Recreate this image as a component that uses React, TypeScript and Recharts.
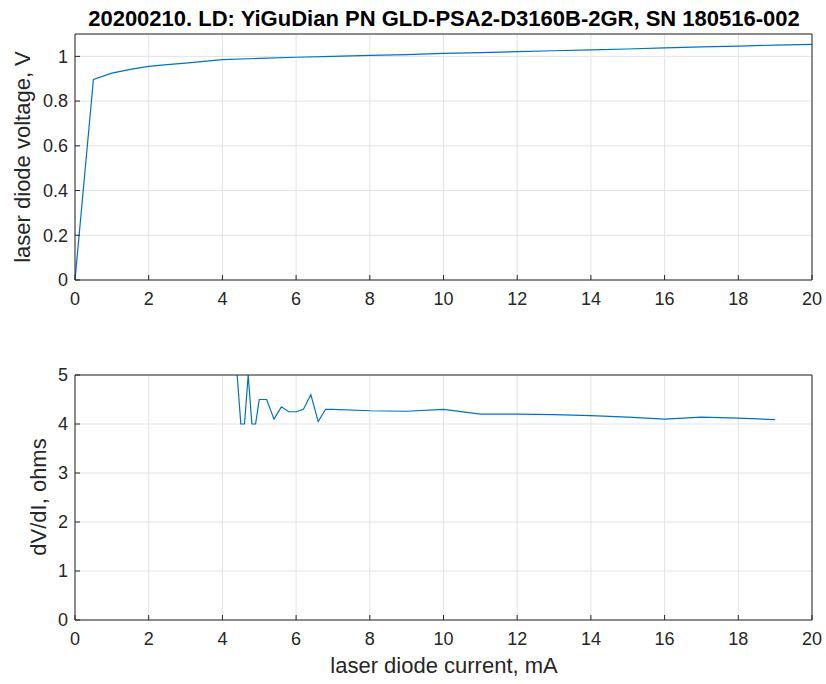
import React from 'react';
import { LineChart, Line, XAxis, YAxis, CartesianGrid } from 'recharts';

// top panel: V(I)
const currentV = [0, 0.5, 1, 1.5, 2, 2.5, 3, 3.5, 4, 5, 6, 7, 8, 9, 10, 11, 12, 13, 14, 15, 16, 17, 18, 19, 20];
const voltage = [
  0, 0.897, 0.925, 0.942, 0.955, 0.963, 0.97, 0.978, 0.985, 0.991, 0.996, 1.0, 1.004, 1.008, 1.013, 1.017,
  1.021, 1.025, 1.029, 1.033, 1.038, 1.042, 1.046, 1.05, 1.054,
];

// bottom panel: dV/dI
const currentR = [4.4, 4.5, 4.6, 4.7, 4.8, 4.9, 5.0, 5.2, 5.4, 5.6, 5.8, 6.0, 6.2, 6.4, 6.6, 6.8, 7, 8, 9, 10, 11, 12, 13, 14, 15, 16, 17, 18, 19];
const resistance = [
  5, 4, 4, 5, 4, 4, 4.5, 4.5, 4.1, 4.35, 4.25, 4.25, 4.3, 4.6, 4.05, 4.3, 4.3, 4.27, 4.26, 4.3, 4.2, 4.2, 4.19,
  4.17, 4.14, 4.1, 4.14, 4.12, 4.09,
];

const xTicks = [0, 2, 4, 6, 8, 10, 12, 14, 16, 18, 20];
const vTicks = [0, 0.2, 0.4, 0.6, 0.8, 1];
const rTicks = [0, 1, 2, 3, 4, 5];

const vData = currentV.map((i, k) => ({ i, v: voltage[k] }));
const rData = currentR.map((i, k) => ({ i, r: resistance[k] }));

const FONT = '"Liberation Sans", Arial, Helvetica, sans-serif';
const INK = '#262626';
const tickStyle = { fill: INK, fontSize: 18, fontFamily: FONT };
const axisLine = { stroke: INK, strokeWidth: 1 };
const tickLine = { stroke: INK, strokeWidth: 1 };

type PanelProps = {
  data: any[];
  dataKey: string;
  yMax: number;
  yTicks: number[];
  height: number;
  margin: { top: number; right: number; bottom: number; left: number };
};

const Panel = ({ data, dataKey, yMax, yTicks, height, margin }: PanelProps) => (
  <LineChart width={826} height={height} data={data} margin={margin}>
    <CartesianGrid stroke="#e3e3e3" strokeWidth={1} />
    <XAxis
      dataKey="i"
      type="number"
      domain={[0, 20]}
      ticks={xTicks}
      allowDataOverflow
      height={30}
      tick={tickStyle}
      tickSize={-5}
      tickMargin={17}
      axisLine={axisLine}
      tickLine={tickLine}
    />
    <XAxis
      xAxisId="top"
      orientation="top"
      type="number"
      domain={[0, 20]}
      ticks={xTicks}
      allowDataOverflow
      height={1}
      tick={false}
      tickSize={-5}
      axisLine={axisLine}
      tickLine={tickLine}
    />
    <YAxis
      type="number"
      domain={[0, yMax]}
      ticks={yTicks}
      allowDataOverflow
      width={40}
      tick={tickStyle}
      tickSize={-5}
      tickMargin={12}
      axisLine={axisLine}
      tickLine={tickLine}
    />
    <YAxis
      yAxisId="right"
      orientation="right"
      type="number"
      domain={[0, yMax]}
      ticks={yTicks}
      allowDataOverflow
      width={1}
      tick={false}
      tickSize={-5}
      axisLine={axisLine}
      tickLine={tickLine}
    />
    <Line
      type="linear"
      dataKey={dataKey}
      stroke="#0072BD"
      strokeWidth={1.2}
      dot={false}
      isAnimationActive={false}
    />
  </LineChart>
);

const labelBase: React.CSSProperties = {
  position: 'absolute',
  fontFamily: FONT,
  color: INK,
  whiteSpace: 'nowrap',
  lineHeight: 1,
};

export default function App() {
  return (
    <div style={{ position: 'absolute', left: 0, top: 0, width: 826, height: 684, background: '#fff' }}>
      <div style={{ position: 'absolute', left: 0, top: 0 }}>
        <Panel
          data={vData}
          dataKey="v"
          yMax={1.1}
          yTicks={vTicks}
          height={320}
          margin={{ top: 33, right: 13, bottom: 10, left: 35 }}
        />
      </div>
      <div style={{ position: 'absolute', left: 0, top: 340 }}>
        <Panel
          data={rData}
          dataKey="r"
          yMax={5}
          yTicks={rTicks}
          height={344}
          margin={{ top: 34, right: 13, bottom: 34, left: 35 }}
        />
      </div>
      <div
        style={{
          ...labelBase,
          left: 444,
          top: 19,
          transform: 'translate(-50%, -50%)',
          fontSize: 22,
          fontWeight: 'bold',
          color: '#000',
        }}
      >
        20200210. LD: YiGuDian PN GLD-PSA2-D3160B-2GR, SN 180516-002
      </div>
      <div style={{ ...labelBase, left: 23, top: 157, transform: 'translate(-50%, -50%) rotate(-90deg)', fontSize: 22 }}>
        laser diode voltage, V
      </div>
      <div style={{ ...labelBase, left: 39, top: 497, transform: 'translate(-50%, -50%) rotate(-90deg)', fontSize: 22 }}>
        dV/dI, ohms
      </div>
      <div style={{ ...labelBase, left: 444, top: 666, transform: 'translate(-50%, -50%)', fontSize: 22 }}>
        laser diode current, mA
      </div>
    </div>
  );
}
